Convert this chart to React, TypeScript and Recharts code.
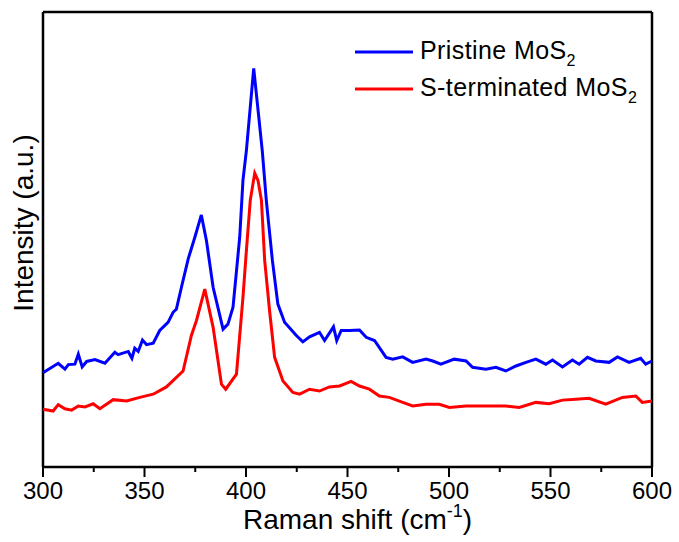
import React from 'react';
import { LineChart, Line, XAxis, YAxis, ReferenceLine } from 'recharts';

// Raman shift (cm-1) and intensity (a.u., 0-100 across the plot height)
const pristineShift = [
  300, 307.5, 310.8, 312.5, 315.7, 317.4, 319.3, 321.5, 325.6, 330.5, 335.4, 337, 342, 343.8, 345.2, 346.9, 349, 351,
  354.3, 357.5, 361.6, 364.1, 365.7, 368.2, 371.5, 374.8, 378, 380.5, 383.8, 388.7, 391.1, 393.6, 396.9, 398.5, 400.2,
  403.8, 408, 410, 413, 415.7, 419, 424.8, 428, 431.3, 436.2, 438.7, 443.1, 444.7, 446.9, 451, 455.9, 459.2, 463.3, 469,
  472.3, 477.2, 482.1, 488.7, 492, 496, 502.6, 508.4, 511.6, 518.2, 523.1, 528, 533, 537.9, 542.8, 547.7, 551, 555.9,
  560.8, 564.1, 568.2, 572.3, 578.9, 583, 588.7, 594.4, 596.9, 600,
];
const pristineIntensity = [
  20.7, 22.8, 21.5, 22.5, 22.6, 24.8, 22.0, 23.2, 23.6, 22.8, 25.2, 24.7, 25.4, 23.9, 26.1, 25.4, 27.9, 26.9,
  27.2, 30.0, 31.8, 34.0, 34.7, 39.5, 45.7, 50.5, 55.4, 49.8, 39.5, 30.3, 31.4, 35.1, 50.5, 63.0, 69.6,
  87.6, 69.6, 58.6, 45.4, 35.8, 31.8, 28.9, 27.5, 28.6, 29.6, 27.8, 30.8, 27.8, 30.0, 30.0, 30.1, 28.5, 27.8, 24.1,
  23.7, 24.2, 23.0, 23.7, 23.3, 22.6, 23.7, 23.3, 21.9, 21.5, 21.9, 21.1, 22.2, 23.0, 23.7, 22.6, 23.5, 22.0,
  23.5, 22.6, 24.1, 23.3, 23.0, 24.2, 23.0, 23.9, 22.6, 23.3,
];

const terminatedShift = [
  300, 305, 307.5, 310.8, 314.1, 317.4, 320.7, 324.7, 328, 334.6, 341.2, 347.7, 354.3, 360.8, 369, 373.1, 375.6, 379.7,
  383.8, 387.9, 390, 395.3, 398.5, 400.2, 402.1, 404.3, 405.9, 407.6, 409.2, 411.6, 414.1, 418.2, 423.1, 426.4, 431.3,
  436.2, 441.1, 446.1, 451.8, 455.9, 460.8, 465.7, 470.6, 477.2, 482.1, 488.7, 495.2, 500.2, 508.4, 518.2, 528, 534.6,
  542.8, 549.3, 555.9, 562.5, 569, 577.2, 585.4, 592, 595.2, 600,
];
const terminatedIntensity = [
  12.7, 12.3, 13.7, 12.8, 12.5, 13.4, 13.2, 13.9, 12.8, 14.8, 14.5, 15.3, 16.0, 17.6, 21.1, 28.9, 32.2, 39.1,
  30.7, 18.2, 17.1, 20.4, 37.3, 47.6, 58.6, 64.6, 63.0, 58.6, 45.4, 34.4, 24.1, 18.9, 16.4, 16.0, 17.1,
  16.7, 17.6, 17.8, 18.8, 17.8, 17.1, 15.6, 15.3, 14.2, 13.4, 13.8, 13.8, 13.1, 13.4, 13.4, 13.4, 13.1,
  14.2, 13.9, 14.7, 14.9, 15.1, 13.8, 15.3, 15.6, 14.2, 14.5,
];

const xTicks = [300, 325, 350, 375, 400, 425, 450, 475, 500, 525, 550, 575, 600];
const seriesNames = ['Pristine MoS', 'S-terminated MoS'];
const seriesColors = ['#0000ff', '#ff0000'];

const pristineData = pristineShift.map((x, i) => ({ x, y: pristineIntensity[i] }));
const terminatedData = terminatedShift.map((x, i) => ({ x, y: terminatedIntensity[i] }));

const FONT = '"Liberation Sans", Arial, sans-serif';
const frame = { stroke: '#000', strokeWidth: 2.5 };

const XTick = (props: any) => {
  const { x, y, payload } = props;
  const major = payload.value % 50 === 0;
  return (
    <g>
      <line x1={x} y1={y} x2={x} y2={y + (major ? 10 : 5)} stroke="#000" strokeWidth={2} />
      {major && (
        <text x={x} y={y + 32} textAnchor="middle" fontSize={24} fontFamily={FONT} fill="#000">
          {payload.value}
        </text>
      )}
    </g>
  );
};

const LegendBox = () => (
  <div style={{ position: 'absolute', left: 355, top: 33, fontFamily: FONT, fontSize: 25, color: '#000' }}>
    {seriesNames.map((name, i) => (
      <div key={name} style={{ height: 37, lineHeight: '37px', display: 'flex', alignItems: 'center', whiteSpace: 'nowrap' }}>
        <svg width={65} height={6}>
          <line x1={0} y1={3} x2={58} y2={3} stroke={seriesColors[i]} strokeWidth={3} />
        </svg>
        <span style={{ letterSpacing: 0.4 }}>
          {name}
          <span style={{ fontSize: 16, position: 'relative', top: 7 }}>2</span>
        </span>
      </div>
    ))}
  </div>
);

const App = () => {
  return (
    <div style={{ position: 'absolute', left: 0, top: 0, width: 679, height: 542, background: '#fff' }}>
      <LineChart width={679} height={542} margin={{ top: 12, right: 27, left: 43, bottom: 15 }}>
        <XAxis
          dataKey="x"
          type="number"
          domain={[300, 600]}
          ticks={xTicks}
          interval={0}
          height={60}
          tickSize={0}
          tickMargin={0}
          tickLine={false}
          tick={<XTick />}
          axisLine={frame}
        />
        <YAxis hide type="number" domain={[0, 100]} />
        <ReferenceLine x={300} {...frame} ifOverflow="visible" />
        <ReferenceLine x={600} {...frame} ifOverflow="visible" />
        <ReferenceLine y={100} {...frame} ifOverflow="visible" />
        <Line data={pristineData} dataKey="y" type="linear" stroke={seriesColors[0]} strokeWidth={3} dot={false} isAnimationActive={false} />
        <Line data={terminatedData} dataKey="y" type="linear" stroke={seriesColors[1]} strokeWidth={3} dot={false} isAnimationActive={false} />
      </LineChart>
      <LegendBox />
      <svg width={679} height={542} style={{ position: 'absolute', left: 0, top: 0, pointerEvents: 'none' }}>
        <text x={243} y={529} fontSize={28} fontFamily={FONT} fill="#000">
          Raman shift (cm
          <tspan fontSize={18} dy={-12}>-1</tspan>
          <tspan fontSize={28} dy={12}>)</tspan>
        </text>
        <text x={0} y={0} transform="translate(33,223) rotate(-90)" textAnchor="middle" fontSize={28} fontFamily={FONT} fill="#000">
          Intensity (a.u.)
        </text>
      </svg>
    </div>
  );
};

export default App;
